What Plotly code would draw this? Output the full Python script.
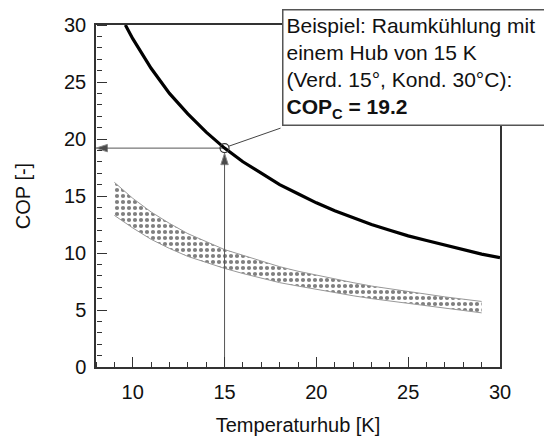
import plotly.graph_objects as go

# Carnot cooling COP curve
carnot_x = [9.6, 10, 11, 12, 13, 14, 15, 16, 17, 18, 19, 20, 21, 22, 23, 24, 25, 26, 27, 28, 29, 30]
carnot_y = [30.0, 28.8, 26.2, 24.0, 22.2, 20.6, 19.2, 18.0, 17.0, 16.0, 15.2, 14.4, 13.7, 13.1,
            12.5, 12.0, 11.5, 11.1, 10.7, 10.3, 9.9, 9.6]

# Real machine band (hatched)
band_x = [9, 10, 11, 12, 13, 14, 15, 16, 17, 18, 19, 20, 21, 22, 23, 24, 25, 26, 27, 28, 29]
band_upper = [16.2, 14.8, 13.6, 12.6, 11.7, 11.0, 10.3, 9.8, 9.3, 8.8, 8.4, 8.05, 7.7, 7.4,
              7.1, 6.85, 6.6, 6.4, 6.15, 5.95, 5.75]
band_lower = [13.3, 12.2, 11.2, 10.4, 9.7, 9.15, 8.65, 8.2, 7.8, 7.4, 7.1, 6.8, 6.5, 6.25,
              6.0, 5.8, 5.55, 5.35, 5.15, 4.95, 4.75]

# Example point
ex_x = 15
ex_y = 19.2

x_range = [8, 30]
y_range = [0, 30]
major_step = 5
minor_step = 1

FONT = "Liberation Sans, Arial, sans-serif"
W, H = 544, 436
ML, MR, MT, MB = 96, 44, 25, 69
AX_COLOR = "#333333"

px_w = W - ML - MR
px_h = H - MT - MB
x_per_px = (x_range[1] - x_range[0]) / px_w
y_per_px = (y_range[1] - y_range[0]) / px_h

def px_to_paper_x(px):
    return (px - ML) / px_w
def px_to_paper_y(py):
    return (H - MB - py) / px_h

fig = go.Figure()

fig.add_trace(go.Scatter(x=band_x, y=band_lower, mode="lines",
                         line=dict(color="#999999", width=1), showlegend=False,
                         hoverinfo="skip"))
fig.add_trace(go.Scatter(x=band_x, y=band_upper, mode="lines",
                         line=dict(color="#999999", width=1), fill="tonexty",
                         fillcolor="rgba(0,0,0,0)",
                         fillpattern=dict(shape=".", fgcolor="#000000", bgcolor="white",
                                          size=6, solidity=0.38),
                         showlegend=False, hoverinfo="skip"))

# guide lines with arrowheads
fig.add_trace(go.Scatter(x=[ex_x, x_range[0]], y=[ex_y, ex_y], mode="lines+markers",
                         line=dict(color="#555555", width=1),
                         marker=dict(symbol="arrow", angleref="previous", size=[0, 12],
                                     color="black"),
                         cliponaxis=False, showlegend=False, hoverinfo="skip"))
fig.add_trace(go.Scatter(x=[ex_x, ex_x], y=[y_range[0], ex_y - 0.45], mode="lines+markers",
                         line=dict(color="#555555", width=1),
                         marker=dict(symbol="arrow", angleref="previous", size=[0, 12],
                                     color="black"),
                         cliponaxis=False, showlegend=False, hoverinfo="skip"))

fig.add_trace(go.Scatter(x=carnot_x, y=carnot_y, mode="lines",
                         line=dict(color="black", width=3.2), showlegend=False,
                         hoverinfo="skip"))

fig.add_trace(go.Scatter(x=[ex_x], y=[ex_y], mode="markers",
                         marker=dict(symbol="circle-open", size=9, color="#333333",
                                     line=dict(width=1.2)),
                         showlegend=False, hoverinfo="skip"))

# invisible trace that anchors the overlay tick axes
fig.add_trace(go.Scatter(x=[x_range[0]], y=[y_range[0]], xaxis="x2", yaxis="y2",
                         mode="markers", marker=dict(opacity=0, size=1),
                         showlegend=False, hoverinfo="skip"))

# leader line from point to box corner
fig.add_shape(type="line", xref="x", yref="y", x0=ex_x + 0.2, y0=ex_y + 0.15,
              x1=ex_x + (282 - 226) * x_per_px, y1=ex_y + (148 - 128) * y_per_px,
              line=dict(color="#444444", width=1))

fig.add_annotation(xref="paper", yref="paper", x=px_to_paper_x(282), y=px_to_paper_y(9),
                   xanchor="left", yanchor="top", showarrow=False, align="left",
                   text="Beispiel: Raumkühlung mit<br>einem Hub von 15 K<br>"
                        "(Verd. 15°, Kond. 30°C):<br><b>COP<sub>C</sub> = 19.2</b>",
                   font=dict(family=FONT, size=21, color="#111111"),
                   bgcolor="white", bordercolor="#555555", borderwidth=1.5, borderpad=3,
                   width=330)

axis_common = dict(showline=True, linecolor=AX_COLOR, linewidth=1.5, mirror=True,
                   ticks="", showgrid=False, zeroline=False, tickmode="linear",
                   dtick=major_step, tick0=0,
                   tickfont=dict(family=FONT, size=20, color="#111111"))

fig.update_xaxes(range=x_range, ticklabelstandoff=6,
                 title=dict(text="Temperaturhub [K]", font=dict(family=FONT, size=20, color="#111111"),
                            standoff=22),
                 **axis_common)
fig.update_yaxes(range=y_range, ticklabelstandoff=4,
                 title=dict(text="COP [-]", font=dict(family=FONT, size=20, color="#111111"),
                            standoff=28),
                 **axis_common)

# overlay axes whose "outside" ticks point into the plot (top-side axis at the bottom,
# right-side axis at the left)
tick_axis = dict(showline=False, showgrid=False, zeroline=False, showticklabels=False,
                 tickmode="linear", tick0=0, dtick=major_step, ticks="outside",
                 ticklen=10, tickwidth=1.3, tickcolor=AX_COLOR,
                 minor=dict(dtick=minor_step, tick0=0, ticks="outside", ticklen=5,
                            tickwidth=1.2, tickcolor=AX_COLOR, showgrid=False))

fig.update_layout(
    xaxis2=dict(overlaying="x", side="top", anchor="free", position=0, range=x_range,
                **tick_axis),
    yaxis2=dict(overlaying="y", side="right", anchor="free", position=0, range=y_range,
                **tick_axis),
    width=W, height=H, margin=dict(l=ML, r=MR, t=MT, b=MB, autoexpand=False),
    plot_bgcolor="white", paper_bgcolor="white", showlegend=False,
    font=dict(family=FONT))

fig.write_html("out.html")
